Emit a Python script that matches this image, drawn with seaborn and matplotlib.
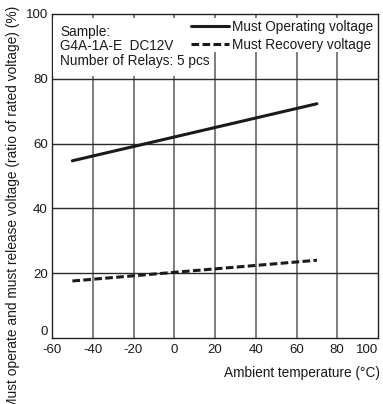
import numpy as np
import pandas as pd
import matplotlib
matplotlib.use("Agg")
import matplotlib.pyplot as plt
import seaborn as sns
from matplotlib.patches import Rectangle
from matplotlib.lines import Line2D

temps = [-50, 70]
operate = [54.7, 72.3]
recovery = [17.6, 24.0]
series_names = ["Must Operating voltage", "Must Recovery voltage"]
xticks = [-60, -40, -20, 0, 20, 40, 60, 80, 100]
yticks = [0, 20, 40, 60, 80, 100]
sample_lines = ["Sample:", "G4A-1A-E  DC12V", "Number of Relays: 5 pcs"]

df = pd.DataFrame({
    "temp": temps * 2,
    "value": operate + recovery,
    "series": [series_names[0]] * 2 + [series_names[1]] * 2,
})

sns.set_style("white")
plt.rcParams["font.family"] = ["Liberation Sans", "DejaVu Sans"]
plt.rcParams["font.size"] = 8

INK = "#1a1a1a"
fig = plt.figure(figsize=(3.83, 4.04), dpi=100)
ax = fig.add_axes([52/383, 66/404, 326/383, 324/404])

sns.lineplot(data=df, x="temp", y="value", style="series",
             dashes={series_names[0]: "", series_names[1]: (2.5, 1.1)},
             color=INK, linewidth=2.2, legend=False, ax=ax, zorder=5)

ax.set_xlim(-60, 100)
ax.set_ylim(0, 100)
ax.set_xticks(xticks)
ax.set_yticks(yticks)
ax.set_xticklabels([str(t) for t in xticks])
ax.set_yticklabels([str(t) for t in yticks])
xl = ax.get_xticklabels()
xl[-1].set_ha("right")
yl = ax.get_yticklabels()
yl[0].set_va("bottom")
for v in xticks[1:-1]:
    ax.axvline(v, color="#5a5a5a", lw=1.1, zorder=0.8)
for v in yticks[1:-1]:
    ax.axhline(v, color="#2a2a2a", lw=1.0, zorder=0.8)
for s in ax.spines.values():
    s.set_color("#222222")
    s.set_linewidth(1.0)
ax.tick_params(axis="both", length=0, labelsize=9.5, colors=INK)
ax.tick_params(axis="x", pad=4)
ax.tick_params(axis="y", pad=3)

# white boxes covering the grid behind the annotations
ax.add_patch(Rectangle((0.003, 0.809), 0.482, 0.179, transform=ax.transAxes,
                       facecolor="white", edgecolor="none", zorder=3))
ax.add_patch(Rectangle((0.408, 0.883), 0.589, 0.105, transform=ax.transAxes,
                       facecolor="white", edgecolor="none", zorder=3))

for i, t in enumerate(sample_lines):
    ax.text(0.0245, 0.966 - i * 0.0445, t, transform=ax.transAxes,
            fontsize=9.8, va="top", ha="left", color=INK, zorder=6)

handles = [Line2D([], [], color=INK, lw=2.2),
           Line2D([], [], color=INK, lw=2.2, dashes=(2.5, 1.1))]
leg = ax.legend(handles, series_names, loc="upper right", bbox_to_anchor=(0.985, 0.983),
                frameon=False, fontsize=9.8, handlelength=2.8, handletextpad=0.2,
                labelspacing=0.3, borderaxespad=0, borderpad=0)
for t in leg.get_texts():
    t.set_color(INK)
leg.set_zorder(7)

ax.set_xlabel("Ambient temperature (°C)", fontsize=9.8, color=INK)
ax.xaxis.set_label_coords(1.005, -0.085)
ax.xaxis.label.set_ha("right")
ax.set_ylabel("Must operate and must release voltage (ratio of rated voltage) (%)",
              fontsize=9.9, color=INK)
ax.yaxis.set_label_coords(-0.12, 0.404)
ax.yaxis.label.set_va("center")

fig.savefig("out.png", dpi=100)
